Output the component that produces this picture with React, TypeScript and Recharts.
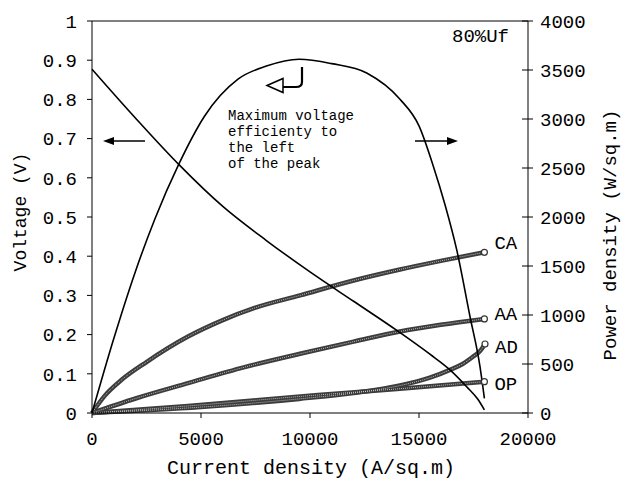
import React from "react"
import { LineChart, Line, XAxis, YAxis, ReferenceLine } from "recharts"

const CURRENT_TICKS = [0, 5000, 10000, 15000, 20000]
const VOLTAGE_TICKS = [0, 0.1, 0.2, 0.3, 0.4, 0.5, 0.6, 0.7, 0.8, 0.9, 1]
const POWER_TICKS = [0, 500, 1000, 1500, 2000, 2500, 3000, 3500, 4000]

// cell voltage (left axis)
const voltageI = [0, 2000, 4000, 6000, 8000, 10000, 12000, 14000, 15500, 16422, 17186, 17700, 18000]
const voltageV = [0.877, 0.752, 0.633, 0.527, 0.44, 0.36, 0.285, 0.21, 0.15, 0.11, 0.067, 0.035, 0.008]

// power density (right axis)
const powerI = [0, 1000, 2000, 2875, 3977, 5168, 6697, 8000, 9500, 11000, 12600, 14128, 15000, 15657, 16200, 16728, 17339, 17798, 18000]
const powerP = [0, 760, 1450, 1975, 2537, 3031, 3407, 3540, 3610, 3565, 3470, 3202, 2930, 2519, 2120, 1667, 985, 474, 150]

// losses (left axis)
const caI = [0, 600, 1345, 2500, 4404, 6000, 7463, 9541, 12000, 14128, 16000, 18000]
const caV = [0, 0.045, 0.084, 0.13, 0.195, 0.237, 0.268, 0.3, 0.338, 0.366, 0.388, 0.41]
const aaI = [0, 2000, 4404, 7000, 9541, 12000, 14128, 16000, 18000]
const aaV = [0, 0.037, 0.076, 0.117, 0.151, 0.182, 0.208, 0.225, 0.24]
const adI = [0, 5000, 9500, 12000, 14128, 15500, 16422, 17000, 17488, 17800, 18028]
const adV = [0, 0.015, 0.036, 0.051, 0.07, 0.09, 0.11, 0.125, 0.144, 0.158, 0.176]
const opI = [0, 4404, 10367, 14128, 18000]
const opV = [0, 0.018, 0.046, 0.062, 0.08]

const zip = (xs: number[], ys: number[]) => xs.map((x, k) => ({ i: x, v: ys[k] }))

const losses = [
  { name: "CA", data: zip(caI, caV), dy: -10 },
  { name: "AA", data: zip(aaI, aaV), dy: -6 },
  { name: "AD", data: zip(adI, adV), dy: 2 },
  { name: "OP", data: zip(opI, opV), dy: 2 },
]

const FONT = "'Courier New', 'Liberation Mono', monospace"

function RightTick(props: any) {
  const { x, y, payload } = props
  const ax = x - 5 - 7
  return (
    <g>
      <line x1={ax - 6} x2={ax} y1={y} y2={y} stroke="#000" />
      <text x={x} y={y} dy="0.35em" textAnchor="start" fontSize={19} fontFamily={FONT} fill="#000">
        {payload.value}
      </text>
    </g>
  )
}

export default function App() {
  const tickStyle = { fontSize: 19, fontFamily: FONT, fill: "#000" }
  return (
    <div style={{ position: "absolute", left: 0, top: 0, width: 621, height: 481, background: "#fff" }}>
      <LineChart width={621} height={481} margin={{ top: 21, right: 0, bottom: 0, left: 0 }}>
        <XAxis
          dataKey="i"
          type="number"
          domain={[0, 20000]}
          ticks={CURRENT_TICKS}
          height={68}
          tickSize={5}
          tickMargin={14}
          stroke="#000"
          tick={tickStyle}
          allowDuplicatedCategory={false}
        />
        <YAxis
          yAxisId="left"
          domain={[0, 1]}
          ticks={VOLTAGE_TICKS}
          width={92}
          tickSize={5}
          tickMargin={10}
          stroke="#000"
          tick={tickStyle}
        />
        <YAxis
          yAxisId="right"
          orientation="right"
          domain={[0, 4000]}
          ticks={POWER_TICKS}
          width={93}
          tickSize={5}
          tickMargin={7}
          stroke="#000"
          tick={<RightTick />}
        />
        <ReferenceLine yAxisId="left" y={1} stroke="#000" />

        {losses.map((s) => (
          <Line
            key={s.name + "-base"}
            yAxisId="left"
            data={s.data}
            dataKey="v"
            type="monotone"
            stroke="#3c3c3c"
            strokeWidth={4.5}
            isAnimationActive={false}
            dot={(p: any) =>
              p.index === s.data.length - 1 ? (
                <circle key={p.index} cx={p.cx} cy={p.cy} r={3} fill="#fff" stroke="#333" strokeWidth={1.2} />
              ) : (
                <g key={p.index} />
              )
            }
            label={(p: any) =>
              p.index === s.data.length - 1 ? (
                <text key={p.index} x={p.x + 10} y={p.y + s.dy} dy="0.35em" fontSize={19} fontFamily={FONT} fill="#000">
                  {s.name}
                </text>
              ) : (
                <g key={p.index} />
              )
            }
          />
        ))}
        {losses.map((s) => (
          <Line
            key={s.name + "-tex"}
            yAxisId="left"
            data={s.data}
            dataKey="v"
            type="monotone"
            stroke="#d8d8d8"
            strokeWidth={1}
            strokeDasharray="0.8 1.2"
            dot={false}
            isAnimationActive={false}
          />
        ))}

        <Line
          yAxisId="left"
          data={zip(voltageI, voltageV)}
          dataKey="v"
          type="monotone"
          stroke="#000"
          strokeWidth={1.6}
          dot={false}
          isAnimationActive={false}
        />
        <Line
          yAxisId="right"
          data={zip(powerI, powerP)}
          dataKey="v"
          type="monotone"
          stroke="#000"
          strokeWidth={1.6}
          dot={false}
          isAnimationActive={false}
        />
      </LineChart>

      <svg width={621} height={481} style={{ position: "absolute", left: 0, top: 0, pointerEvents: "none" }}>
        <g fontFamily={FONT} fill="#000">
          <text x={21} y={212} fontSize={18} textAnchor="middle" dominantBaseline="central" transform="rotate(-90 21 212)">
            Voltage (V)
          </text>
          <text x={611} y={235} fontSize={19} textAnchor="middle" dominantBaseline="central" transform="rotate(-90 611 235)">
            Power density (W/sq.m)
          </text>
          <text x={311} y={474} fontSize={20} textAnchor="middle">
            Current density (A/sq.m)
          </text>
          <text x={452} y={42} fontSize={19}>80%Uf</text>
          <text x={228} y={120} fontSize={14}>Maximum voltage</text>
          <text x={228} y={136} fontSize={14}>efficienty to</text>
          <text x={228} y={152} fontSize={14}>the left</text>
          <text x={228} y={168} fontSize={14}>of the peak</text>
        </g>
        <line x1={145} y1={141} x2={110} y2={141} stroke="#000" strokeWidth={1.6} />
        <polygon points="103,141 114,137 114,145" fill="#000" />
        <line x1={415} y1={141} x2={451} y2={141} stroke="#000" strokeWidth={1.6} />
        <polygon points="458,141 447,137 447,145" fill="#000" />
        <path d="M302,67 L302,82 Q302,87 296,87 L283,87" fill="none" stroke="#000" strokeWidth={2.2} />
        <polygon points="267,85.5 283,78.5 283,92.5" fill="#fff" stroke="#000" strokeWidth={1.5} />
      </svg>
    </div>
  )
}
